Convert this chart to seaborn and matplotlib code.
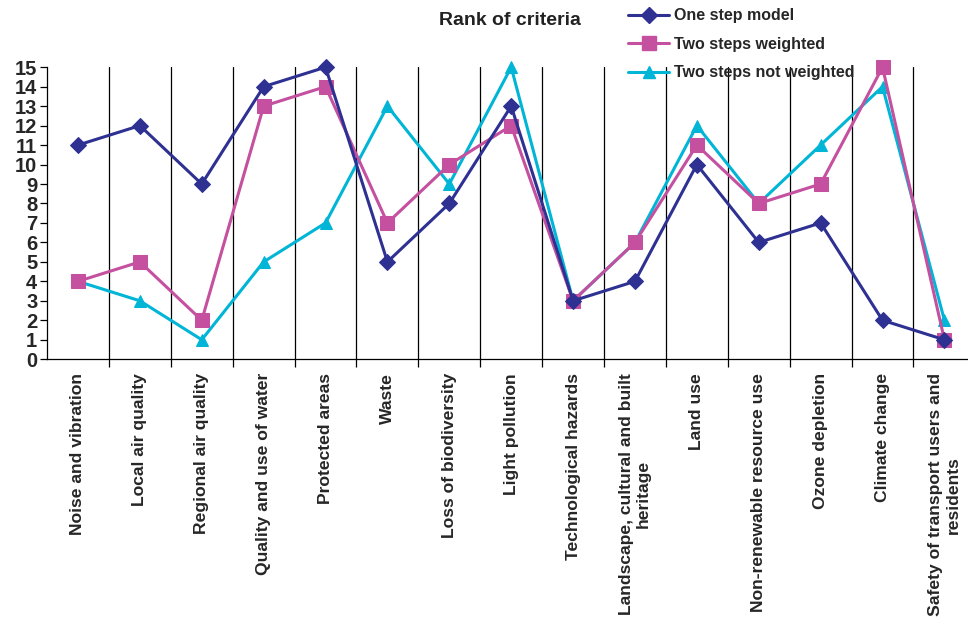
import numpy as np
import pandas as pd
import matplotlib
matplotlib.use("Agg")
import matplotlib.pyplot as plt
import seaborn as sns
from matplotlib.lines import Line2D

categories = ["Noise and vibration", "Local air quality", "Regional air quality",
              "Quality and use of water", "Protected areas", "Waste",
              "Loss of biodiversity", "Light pollution", "Technological hazards",
              "Landscape, cultural and built\nheritage", "Land use",
              "Non-renewable resource use", "Ozone depletion", "Climate change",
              "Safety of transport users and\nresidents"]
one_step = [11, 12, 9, 14, 15, 5, 8, 13, 3, 4, 10, 6, 7, 2, 1]
two_weighted = [4, 5, 2, 13, 14, 7, 10, 12, 3, 6, 11, 8, 9, 15, 1]
two_not_weighted = [4, 3, 1, 5, 7, 13, 9, 15, 3, 6, 12, 8, 11, 14, 2]
series_names = ["One step model", "Two steps weighted", "Two steps not weighted"]
yticks = list(range(0, 16))

sns.set_style("white")
plt.rcParams['font.family'] = ['Liberation Sans', 'DejaVu Sans']

colors = ["#2E3192", "#C4509F", "#00B5D6"]
markers = ["D", "s", "^"]
msizes = [8, 10, 8]

idx = np.arange(len(categories))
df = pd.concat([
    pd.DataFrame({"x": idx, "rank": vals, "series": name})
    for name, vals in zip(series_names, [one_step, two_weighted, two_not_weighted])
])

fig = plt.figure(figsize=(9.68, 6.28), dpi=100)
ax = fig.add_axes([0.0486, 0.428, 0.959, 0.465])

# draw in order: cyan, magenta, navy (navy on top)
for name, c, m, ms in list(zip(series_names, colors, markers, msizes))[::-1]:
    sub = df[df["series"] == name]
    sns.lineplot(data=sub, x="x", y="rank", ax=ax, color=c, marker=m,
                 markersize=ms, markeredgecolor=c, linewidth=2.2,
                 legend=False, clip_on=False)

ax.set_xlim(-0.5, len(categories) - 0.5)
ax.set_ylim(0, 15)
ax.set_yticks(yticks)
ax.set_yticklabels([str(t) for t in yticks], fontsize=14.5, fontweight="bold")
ax.set_xticks(idx)
ax.set_xticklabels(categories, rotation=90, fontsize=12.6, fontweight="bold",
                   va="top", ha="center", multialignment="center")
ax.set_xticks(np.arange(0.5, len(categories) - 0.5, 1), minor=True)
ax.tick_params(axis="x", which="major", length=0, pad=10)
ax.tick_params(axis="x", which="minor", length=6, direction="out", color="black", width=0.9, bottom=True)
ax.tick_params(axis="y", which="major", length=5, direction="out", color="black", width=0.9, left=True, pad=2)
ax.grid(False)
ax.grid(True, axis="x", which="minor", color="black", linewidth=0.9)
ax.set_xlabel("")
ax.set_ylabel("")
for s in ["top", "right"]:
    ax.spines[s].set_visible(False)
for s in ["left", "bottom"]:
    ax.spines[s].set_color("black")
    ax.spines[s].set_linewidth(0.9)

fig.text(0.527, 0.967, "Rank of criteria", ha="center", va="center",
         fontsize=14, fontweight="bold", color="#222222")

handles = [Line2D([0], [0], color=c, marker=m, markersize=ms, markeredgecolor=c, linewidth=2.2)
           for c, m, ms in zip(colors, markers, msizes)]
fig.legend(handles, series_names, loc="upper left", bbox_to_anchor=(0.642, 0.997),
           frameon=False, prop={"weight": "bold", "size": 11.5}, labelspacing=0.85,
           handlelength=2.6, handletextpad=0.3, borderaxespad=0)

fig.savefig("out.png", dpi=100)
